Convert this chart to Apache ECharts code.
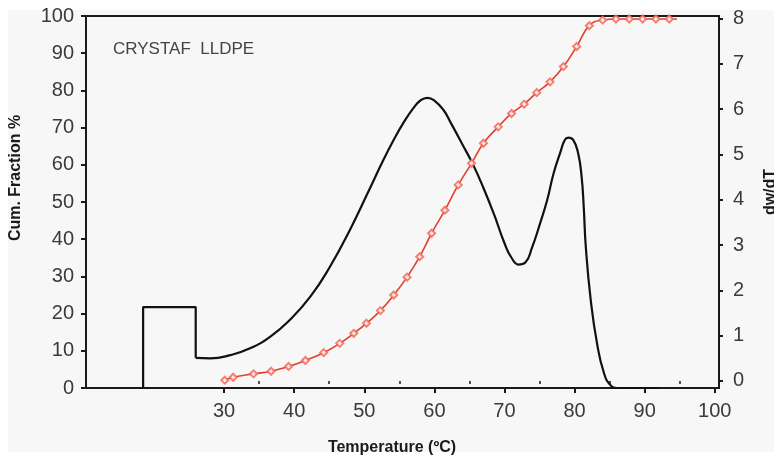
<!DOCTYPE html>
<html>
<head>
<meta charset="utf-8">
<title>CRYSTAF LLDPE</title>
<script src="https://cdn.jsdelivr.net/npm/echarts@6/dist/echarts.min.js"></script>
<style>
  html, body { margin: 0; padding: 0; background: #ffffff; }
  #chart { width: 774px; height: 457px; }
</style>
</head>
<body>
<div id="chart"></div>
<script>
// Temperature axis tick labels
const tempTicks = [30, 40, 50, 60, 70, 80, 90, 100];
const tempMinorTicks = [35, 45, 55, 65, 75, 85, 95];
const dwTicks = [0, 1, 2, 3, 4, 5, 6, 7, 8];

// dw/dT: soluble fraction step
const stepTemp = [18.45, 18.45, 25.95, 25.95];
const stepDw = [-0.155, 1.63, 1.63, 0.51];

// dw/dT: crystallization curve
const curveTemp = [25.95, 28.0, 30.9, 33.7, 36.6, 39.4, 42.3, 45.1, 48.0, 50.4, 52.7, 54.3, 55.6, 57.0,
  58.0, 59.0, 60.0, 61.3, 62.4, 64.0, 65.5, 67.0, 68.5, 70.0, 71.0, 72.0, 73.0, 73.9, 75.1, 76.1, 77.0,
  78.0, 78.6, 79.1, 79.8, 80.5, 81.0, 81.3, 81.6, 82.3, 83.2, 84.2, 85.1, 86.1, 92.0];
const curveDw = [0.51, 0.50, 0.57, 0.72, 0.98, 1.35, 1.86, 2.52, 3.35, 4.12, 4.87, 5.35, 5.70, 6.02,
  6.19, 6.25, 6.19, 5.98, 5.68, 5.22, 4.78, 4.26, 3.68, 3.04, 2.72, 2.57, 2.62, 2.93, 3.49, 4.00, 4.58,
  5.06, 5.32, 5.37, 5.32, 5.03, 4.51, 3.85, 2.96, 1.79, 0.83, 0.17, -0.09, -0.155, -0.155];

// Cumulative fraction (%)
const cumTemp = [30.1, 31.3, 34.2, 36.7, 39.2, 41.6, 44.2, 46.5, 48.5, 50.3, 52.3, 54.2, 56.1, 57.9,
  59.6, 61.5, 63.4, 65.3, 67.0, 69.1, 71.0, 72.8, 74.6, 76.5, 78.4, 80.3, 82.1, 84.0, 85.9, 87.8, 89.7,
  91.6, 93.5, 94.6];
const cumFrac = [2.1, 2.9, 3.8, 4.5, 5.8, 7.4, 9.5, 12.0, 14.7, 17.4, 20.8, 25.0, 29.8, 35.3,
  41.6, 47.8, 54.6, 60.4, 65.8, 70.2, 73.8, 76.3, 79.4, 82.3, 86.4, 91.8, 97.4, 98.9, 99.2, 99.2, 99.2,
  99.2, 99.2, 99.2];

const zip = (xs, ys) => xs.map((x, i) => [x, ys[i]]);
const cumData = zip(cumTemp, cumFrac).map((p, i) =>
  i === cumTemp.length - 1 ? { value: p, symbol: 'none' } : p);

const labelFont = { fontFamily: 'Liberation Sans, Arial, sans-serif', fontSize: 20, color: '#3a3a3a' };
const axisLineStyle = { color: '#1a1a1a', width: 2 };
const titleFont = 'bold 16px "Liberation Sans", Arial, sans-serif';

const chart = echarts.init(document.getElementById('chart'), null, { renderer: 'canvas' });
chart.setOption({
  animation: false,
  backgroundColor: '#ffffff',
  graphic: [
    { type: 'rect', z: -10, silent: true, shape: { x: 8, y: 10, width: 766, height: 442 },
      style: { fill: '#f7f7f7' } },
    { type: 'text', x: 113, y: 49, z: 10,
      style: { text: 'CRYSTAF  LLDPE', font: '17px "Liberation Sans", Arial, sans-serif',
        fill: '#444444', textAlign: 'left', textVerticalAlign: 'middle' } },
    { type: 'text', x: 16, y: 178, rotation: Math.PI / 2, z: 10,
      style: { text: 'Cum. Fraction %', font: titleFont, fill: '#1a1a1a',
        textAlign: 'center', textVerticalAlign: 'middle' } },
    { type: 'text', x: 771, y: 192, rotation: Math.PI / 2, z: 10,
      style: { text: 'dw/dT', font: titleFont, fill: '#1a1a1a',
        textAlign: 'center', textVerticalAlign: 'middle' } },
    { type: 'text', x: 392, y: 448, z: 10,
      style: { text: 'Temperature (\u00BAC)', font: titleFont, fill: '#1a1a1a',
        textAlign: 'center', textVerticalAlign: 'middle' } }
  ],
  grid: {
    left: 86, right: 55, top: 16, bottom: 69,
    show: true, borderColor: '#1a1a1a', borderWidth: 2, backgroundColor: 'transparent'
  },
  xAxis: [
    {
      type: 'value', min: 10.3, max: 100.6, position: 'bottom',
      axisLine: { show: true, lineStyle: axisLineStyle },
      axisTick: { show: true, length: 5, customValues: tempTicks, lineStyle: axisLineStyle },
      axisLabel: Object.assign({ margin: 13, customValues: tempTicks }, labelFont),
      splitLine: { show: false }
    },
    {
      type: 'value', min: 10.3, max: 100.6, position: 'bottom',
      axisLine: { show: false },
      axisTick: { show: true, length: 3, customValues: tempMinorTicks,
        lineStyle: { color: '#1a1a1a', width: 1.5 } },
      axisLabel: { show: false },
      splitLine: { show: false }
    }
  ],
  yAxis: [
    {
      type: 'value', min: 0, max: 100, interval: 10, position: 'left',
      axisLine: { show: true, lineStyle: axisLineStyle },
      axisTick: { show: true, length: 5, lineStyle: axisLineStyle },
      axisLabel: Object.assign({ margin: 12 }, labelFont),
      splitLine: { show: false }
    },
    {
      type: 'value', min: -0.155, max: 8.055, position: 'right',
      axisLine: { show: true, lineStyle: axisLineStyle },
      axisTick: { show: true, length: 4, customValues: dwTicks, lineStyle: axisLineStyle },
      axisLabel: Object.assign({ margin: 14, customValues: dwTicks }, labelFont),
      splitLine: { show: false }
    }
  ],
  series: [
    {
      name: 'dw/dT step', type: 'line', xAxisIndex: 0, yAxisIndex: 1,
      data: zip(stepTemp, stepDw), showSymbol: false, symbol: 'none',
      lineStyle: { color: '#111111', width: 2.2 }, z: 3
    },
    {
      name: 'dw/dT', type: 'line', xAxisIndex: 0, yAxisIndex: 1,
      data: zip(curveTemp, curveDw), showSymbol: false, symbol: 'none', smooth: 0.5,
      lineStyle: { color: '#111111', width: 2.2 }, z: 3
    },
    {
      name: 'Cum. Fraction', type: 'line', xAxisIndex: 0, yAxisIndex: 0,
      data: cumData, smooth: 0.5, symbol: 'emptyDiamond', symbolSize: 7, showSymbol: true,
      lineStyle: { color: '#e2402f', width: 1.6 },
      itemStyle: { color: '#f26a5c', borderColor: '#f06b5d', borderWidth: 1.2, opacity: 0.85 },
      z: 4
    }
  ]
});
</script>
</body>
</html>
